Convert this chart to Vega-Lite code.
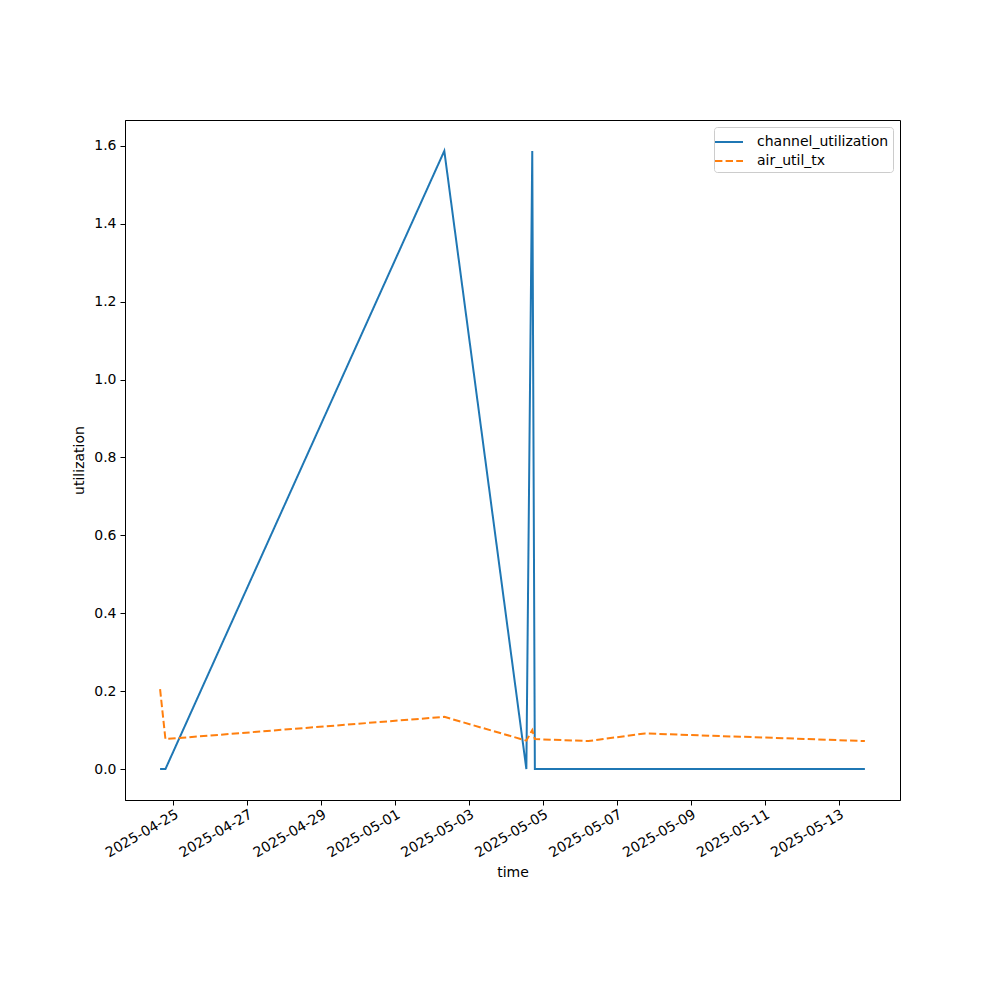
{
  "$schema": "https://vega.github.io/schema/vega-lite/v6.json",
  "width": 775,
  "height": 680,
  "autosize": {"type": "none"},
  "padding": {"left": 125, "top": 120, "right": 100, "bottom": 200},
  "background": "white",
  "config": {
    "font": "DejaVu Sans",
    "view": {"stroke": "black", "strokeWidth": 1},
    "axis": {"grid": false, "domainColor": "black", "tickColor": "black", "labelColor": "black", "titleColor": "black", "labelFontSize": 14, "titleFontSize": 14, "titleFontWeight": "normal", "tickSize": 5, "labelPadding": 4, "labelFont": "DejaVu Sans", "titleFont": "DejaVu Sans"}
  },
  "data": {
    "values": [
      {"time": "2025-04-24T15:21:00Z", "series": "channel_utilization", "value": 0.0},
      {"time": "2025-04-24T18:49:00Z", "series": "channel_utilization", "value": 0.0},
      {"time": "2025-05-02T07:55:00Z", "series": "channel_utilization", "value": 1.587},
      {"time": "2025-05-04T13:12:00Z", "series": "channel_utilization", "value": 0.0},
      {"time": "2025-05-04T17:02:00Z", "series": "channel_utilization", "value": 1.587},
      {"time": "2025-05-04T18:43:00Z", "series": "channel_utilization", "value": 0.0},
      {"time": "2025-05-06T05:31:00Z", "series": "channel_utilization", "value": 0.0},
      {"time": "2025-05-07T18:14:00Z", "series": "channel_utilization", "value": 0.0},
      {"time": "2025-05-13T17:02:00Z", "series": "channel_utilization", "value": 0.0},
      {"time": "2025-04-24T15:21:00Z", "series": "air_util_tx", "value": 0.205},
      {"time": "2025-04-24T18:49:00Z", "series": "air_util_tx", "value": 0.077},
      {"time": "2025-05-02T07:55:00Z", "series": "air_util_tx", "value": 0.134},
      {"time": "2025-05-04T13:12:00Z", "series": "air_util_tx", "value": 0.073},
      {"time": "2025-05-04T17:02:00Z", "series": "air_util_tx", "value": 0.100},
      {"time": "2025-05-04T18:43:00Z", "series": "air_util_tx", "value": 0.077},
      {"time": "2025-05-06T05:31:00Z", "series": "air_util_tx", "value": 0.072},
      {"time": "2025-05-07T18:14:00Z", "series": "air_util_tx", "value": 0.0915},
      {"time": "2025-05-13T17:02:00Z", "series": "air_util_tx", "value": 0.072}
    ]
  },
  "mark": {"type": "line", "strokeWidth": 2, "clip": true},
  "encoding": {
    "x": {
      "field": "time",
      "type": "temporal",
      "title": "time",
      "scale": {"type": "utc", "domain": [{"year": 2025, "month": 4, "date": 23, "hours": 16, "minutes": 34, "utc": true}, {"year": 2025, "month": 5, "date": 14, "hours": 15, "minutes": 50, "utc": true}]},
      "axis": {
        "values": [
          {"year": 2025, "month": 4, "date": 25, "utc": true},
          {"year": 2025, "month": 4, "date": 27, "utc": true},
          {"year": 2025, "month": 4, "date": 29, "utc": true},
          {"year": 2025, "month": 5, "date": 1, "utc": true},
          {"year": 2025, "month": 5, "date": 3, "utc": true},
          {"year": 2025, "month": 5, "date": 5, "utc": true},
          {"year": 2025, "month": 5, "date": 7, "utc": true},
          {"year": 2025, "month": 5, "date": 9, "utc": true},
          {"year": 2025, "month": 5, "date": 11, "utc": true},
          {"year": 2025, "month": 5, "date": 13, "utc": true}
        ],
        "labelExpr": "utcFormat(datum.value, '%Y-%m-%d')",
        "labelOverlap": false,
        "labelBound": false,
        "labelFlush": false,
        "labelAngle": -30,
        "labelAlign": "right",
        "labelBaseline": "top",
        "labelPadding": 2,
        "titlePadding": 6
      }
    },
    "y": {
      "field": "value",
      "type": "quantitative",
      "title": "utilization",
      "scale": {"domain": [-0.0794, 1.6664], "nice": false, "zero": false},
      "axis": {"values": [0, 0.2, 0.4, 0.6, 0.8, 1.0, 1.2, 1.4, 1.6], "format": ".1f", "titlePadding": 7}
    },
    "color": {
      "field": "series",
      "type": "nominal",
      "scale": {"domain": ["channel_utilization", "air_util_tx"], "range": ["#1f77b4", "#ff7f0e"]},
      "legend": {
        "title": null,
        "orient": "top-right",
        "offset": 7,
        "symbolType": "M-1.4,0H1.4",
        "symbolSize": 400,
        "symbolStrokeWidth": 2,
        "labelFontSize": 14,
        "labelFont": "DejaVu Sans",
        "labelColor": "black",
        "labelOffset": 17,
        "rowPadding": 1,
        "padding": 4,
        "strokeColor": "#cccccc",
        "fillColor": "white",
        "cornerRadius": 3
      }
    },
    "strokeDash": {
      "field": "series",
      "type": "nominal",
      "scale": {"domain": ["channel_utilization", "air_util_tx"], "range": [[1, 0], [7.4, 3.2]]}
    }
  }
}
